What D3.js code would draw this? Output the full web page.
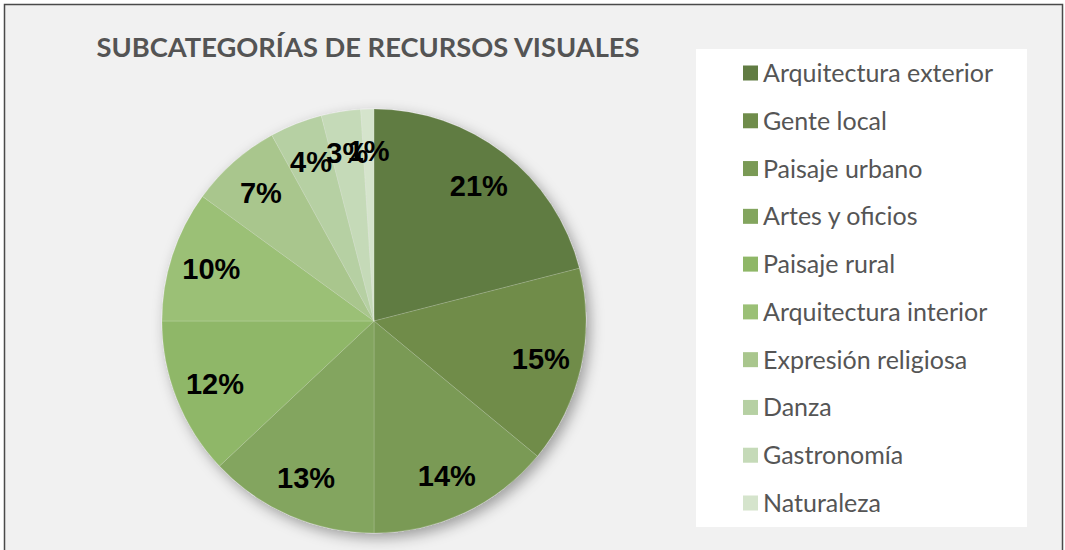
<!DOCTYPE html>
<html>
<head>
<meta charset="utf-8">
<script src="https://cdn.jsdelivr.net/npm/d3@7"></script>
<style>
  body { margin: 0; background: #fff; }
  svg { display: block; }
</style>
</head>
<body>
<script>
// Chart data
let categories = ["Arquitectura exterior", "Gente local", "Paisaje urbano", "Artes y oficios",
  "Paisaje rural", "Arquitectura interior", "Expresión religiosa", "Danza", "Gastronomía", "Naturaleza"]
let shares = [21, 15, 14, 13, 12, 10, 7, 4, 3, 1]
let sliceColors = ["#617c43", "#6f8c4a", "#7a9a55", "#83a55e", "#8fb767",
  "#9bc076", "#a9c68d", "#b6d0a3", "#c5dab8", "#d5e4cc"]

let svgWidth = 1065
let svgHeight = 550

let svg = d3.select("body")
  .append("svg")
  .attr("width", svgWidth)
  .attr("height", svgHeight)

// shadow for the pie
let defs = svg.append("defs")
defs.append("filter")
  .attr("id", "shadow")
  .attr("x", "-20%").attr("y", "-20%")
  .attr("width", "140%").attr("height", "140%")
  .append("feDropShadow")
  .attr("dx", 4).attr("dy", 5)
  .attr("stdDeviation", 7)
  .attr("flood-color", "#000")
  .attr("flood-opacity", 0.35)

// background + frame
svg.append("rect")
  .attr("x", 4.5).attr("y", 4.5)
  .attr("width", 1058).attr("height", 560)
  .attr("fill", "#f1f1f1")
  .attr("stroke", "#4a4a4a")
  .attr("stroke-width", 1.5)

// title
svg.append("text")
  .attr("x", 368)
  .attr("y", 57)
  .attr("text-anchor", "middle")
  .attr("font-family", "Lato, 'Open Sans', sans-serif")
  .attr("font-weight", "bold")
  .attr("font-size", 27)
  .attr("fill", "#545454")
  .attr("textLength", 543)
  .attr("lengthAdjust", "spacingAndGlyphs")
  .text("SUBCATEGORÍAS DE RECURSOS VISUALES")

// pie
let cx = 374, cy = 321, radius = 212

let pie = d3.pie().sort(null).value(d => d)
let arc = d3.arc().innerRadius(0).outerRadius(radius)
let labelArc = d3.arc().innerRadius(171).outerRadius(171)

let pieGroup = svg.append("g")
  .attr("transform", `translate(${cx}, ${cy})`)

let arcs = pie(shares)

pieGroup.append("g")
  .attr("filter", "url(#shadow)")
  .selectAll("path")
  .data(arcs)
  .enter().append("path")
  .attr("d", arc)
  .attr("fill", (d, i) => sliceColors[i])
  .attr("stroke", "#ffffff")
  .attr("stroke-opacity", 0.25)
  .attr("stroke-width", 0.6)

pieGroup.selectAll(".lbl")
  .data(arcs)
  .enter().append("text")
  .attr("class", "lbl")
  .attr("transform", d => `translate(${labelArc.centroid(d)})`)
  .attr("dy", "0.36em")
  .attr("text-anchor", "middle")
  .attr("font-family", "'Liberation Sans', Arial, sans-serif")
  .attr("font-weight", "bold")
  .attr("font-size", 29)
  .attr("fill", "#000")
  .text(d => d.data + "%")

// legend
let legend = svg.append("g")
legend.append("rect")
  .attr("x", 696).attr("y", 49)
  .attr("width", 331).attr("height", 478)
  .attr("fill", "#ffffff")

let rowY = d3.scalePoint()
  .domain(categories)
  .range([73, 503])

let item = legend.selectAll(".item")
  .data(categories)
  .enter().append("g")
  .attr("class", "item")
  .attr("transform", d => `translate(743, ${rowY(d)})`)

item.append("rect")
  .attr("x", 0).attr("y", -7.5)
  .attr("width", 15).attr("height", 15)
  .attr("fill", (d, i) => sliceColors[i])

item.append("text")
  .attr("x", 20)
  .attr("y", 0)
  .attr("dy", "0.36em")
  .attr("font-family", "Lato, 'Open Sans', sans-serif")
  .attr("font-size", 25)
  .attr("fill", "#555555")
  .text(d => d)
</script>
</body>
</html>
